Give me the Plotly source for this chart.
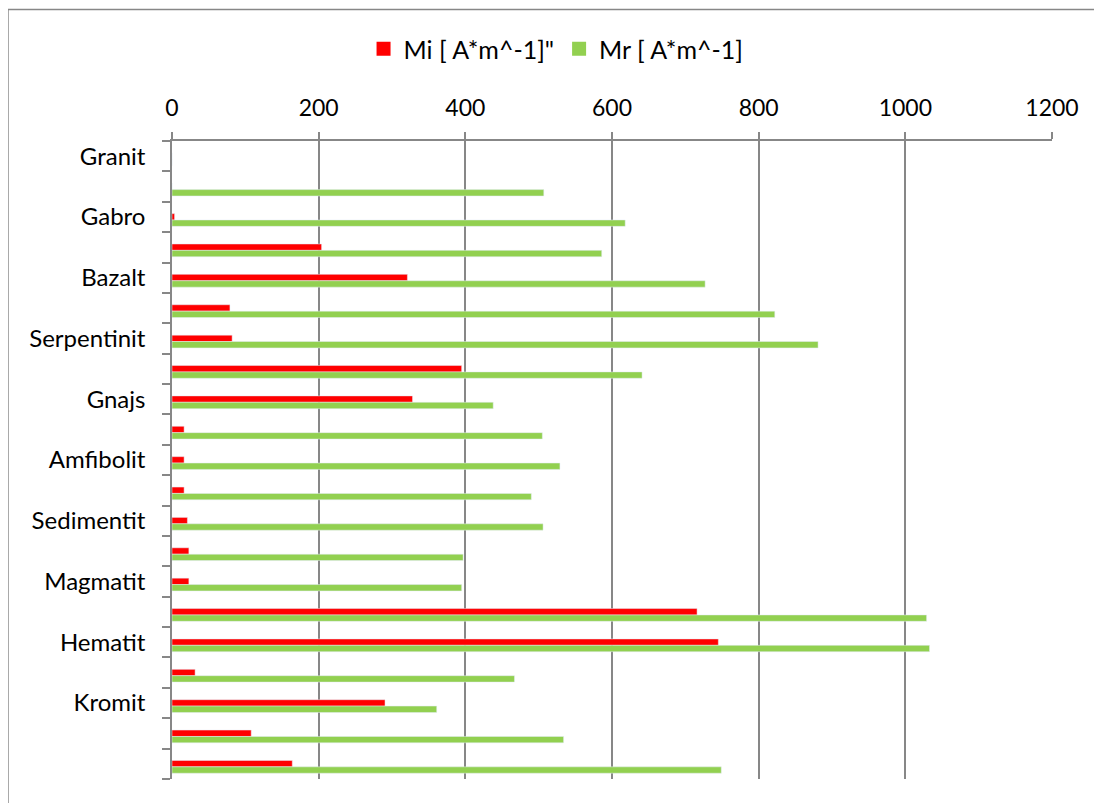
import plotly.graph_objects as go

# rows top to bottom, only every other row has a visible label
labels = ["Granit", "", "Gabro", "", "Bazalt", "", "Serpentinit", "", "Gnajs", "",
          "Amfibolit", "", "Sedimentit", "", "Magmatit", "", "Hematit", "", "Kromit", "", ""]
rows = list(range(len(labels)))

mi = [0, 0, 3.5, 204, 321, 79, 82, 395, 328, 16.5, 16.5, 16.5, 21, 23, 23,
      716, 745, 31.5, 290.5, 108, 164]
mr = [0, 507, 618, 586, 727, 822, 881, 641, 438, 505, 529, 490, 506, 397, 395,
      1029, 1033, 467, 361, 534, 749]

x_ticks = [0, 200, 400, 600, 800, 1000, 1200]

series = ['Mi [ A*m^-1]"', "Mr [ A*m^-1]"]
colors = ["#FF0000", "#92D050"]

grey = "#878787"
font = "Lato, 'Open Sans', sans-serif"

bar_w = 0.21
fig = go.Figure()
# Mi sits just above Mr, pair slightly below the row centre like Excel draws it
for i, (name, vals, col) in enumerate(zip(series, [mi, mr], colors)):
    fig.add_trace(go.Bar(y=rows, x=vals, orientation="h", name=name,
                         marker_color=col, showlegend=False,
                         width=bar_w, offset=-0.11 + i * bar_w))
# legend entries with bigger square swatches
for name, col in zip(series, colors):
    fig.add_trace(go.Scatter(x=[None], y=[None], mode="markers", name=name,
                             marker=dict(symbol="square", size=14, color=col)))

# page has an 8px body margin, so the figure is 8px smaller to avoid scrollbars
fig.update_layout(
    width=1094, height=795,
    margin=dict(l=164, r=50, t=133, b=24),
    paper_bgcolor="white", plot_bgcolor="white",
    barmode="overlay",
    font=dict(family=font, size=24, color="#000000"),
    showlegend=True,
    legend=dict(orientation="h", xref="container", yref="container",
                x=0.325, xanchor="left", y=1 - 41 / 795, yanchor="middle",
                font=dict(size=25), traceorder="normal", itemsizing="trace"),
)

fig.update_xaxes(
    side="top", range=[0, 1200], tickvals=x_ticks, automargin=False,
    showgrid=True, gridcolor=grey, gridwidth=1.5,
    showline=True, linecolor=grey, linewidth=1.5,
    ticks="outside", ticklen=7, tickcolor=grey, tickwidth=1.5,
    ticklabelstandoff=7, zeroline=False, tickfont=dict(size=23),
)

fig.update_yaxes(
    range=[len(rows) - 0.5, -0.5], tickvals=rows, ticktext=labels, automargin=False,
    showgrid=False, zeroline=False,
    showline=True, linecolor=grey, linewidth=1.5,
    ticks="outside", ticklen=0, tickcolor=grey,
    ticklabelstandoff=20,
    minor=dict(tickvals=[r - 0.5 for r in rows] + [len(rows) - 0.5],
               ticks="outside", ticklen=8, tickcolor=grey, tickwidth=1.5,
               showgrid=False),
)

# chart area border: only its top and left edges are inside the picture
fig.add_shape(type="line", xref="paper", yref="paper",
              x0=-0.1864, x1=1.1, y0=1.206, y1=1.206,
              line=dict(color=grey, width=1.5), layer="below")
fig.add_shape(type="line", xref="paper", yref="paper",
              x0=-0.1864, x1=-0.1864, y0=-0.1, y1=1.206,
              line=dict(color=grey, width=1.5), layer="below")

fig.write_html("out.html")
